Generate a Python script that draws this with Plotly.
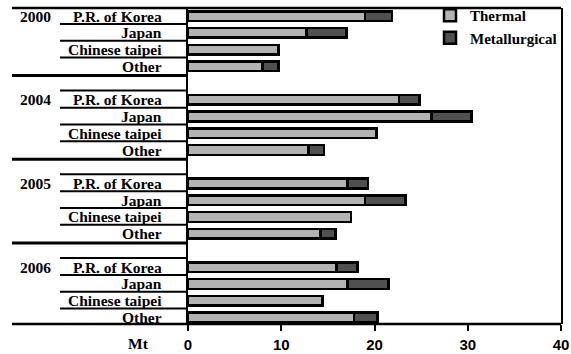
import plotly.graph_objects as go

years = ["2000", "2004", "2005", "2006"]
countries = ["P.R. of Korea", "Japan", "Chinese taipei", "Other"]

thermal_2000 = [19.0, 12.7, 9.7, 8.0]
metall_2000 = [2.9, 4.3, None, 1.7]
thermal_2004 = [22.6, 26.1, 20.2, 12.9]
metall_2004 = [2.2, 4.3, None, 1.7]
thermal_2005 = [17.1, 19.0, 17.5, 14.2]
metall_2005 = [2.2, 4.3, None, 1.6]
thermal_2006 = [15.9, 17.1, 14.4, 17.8]
metall_2006 = [2.3, 4.4, None, 2.5]

thermal = [thermal_2000, thermal_2004, thermal_2005, thermal_2006]
metall = [metall_2000, metall_2004, metall_2005, metall_2006]

x_ticks = [0, 10, 20, 30, 40]

# slot positions: 4 rows per year + one empty slot between groups
slots, th_vals, me_vals = [], [], []
for gi, yr in enumerate(years):
    for ci, c in enumerate(countries):
        slots.append(5 * gi + ci)
        th_vals.append(thermal[gi][ci])
        me_vals.append(metall[gi][ci])

W, H = 571, 354
L, R, T, B = 188, 10, 8, 30
pw = W - L - R
ph = H - T - B


def px_x(px):
    return (px - L) / pw


def px_y(py):
    return (H - B - py) / ph


SERIF = "Liberation Serif, Times New Roman, DejaVu Serif, serif"
SANS = "Liberation Sans, Arial, sans-serif"

fig = go.Figure()
fig.add_trace(go.Bar(
    y=slots, x=th_vals, orientation="h", name="Thermal",
    marker=dict(color="#b3b3b3", line=dict(color="black", width=2.5)),
    width=0.57,
))
fig.add_trace(go.Bar(
    y=slots, x=me_vals, orientation="h", name="Metallurgical",
    marker=dict(color="#505050", line=dict(color="black", width=2.5)),
    width=0.57,
))

shapes = []
x_left_thick = px_x(12)
x_left_thin = px_x(60)
# top border and bottom line
shapes.append(dict(type="line", xref="paper", yref="paper", x0=x_left_thick, x1=1,
                   y0=1, y1=1, line=dict(color="black", width=2.5)))
shapes.append(dict(type="line", xref="paper", yref="paper", x0=x_left_thick, x1=1,
                   y0=0, y1=0, line=dict(color="black", width=2.5)))
for gi in range(len(years)):
    b = 5 * gi
    if gi < len(years) - 1:
        shapes.append(dict(type="line", xref="paper", yref="y", x0=x_left_thick, x1=0,
                           y0=b + 3.55, y1=b + 3.55, line=dict(color="black", width=3)))
    offs = [0.47, 1.47, 2.47]
    if gi > 0:
        offs = [-0.55] + offs
    for o in offs:
        shapes.append(dict(type="line", xref="paper", yref="y", x0=x_left_thin, x1=0,
                           y0=b + o, y1=b + o, line=dict(color="black", width=2)))

annotations = []
for gi, yr in enumerate(years):
    annotations.append(dict(text=yr, xref="paper", yref="y", x=px_x(18), y=5 * gi,
                            xanchor="left", yanchor="middle", showarrow=False,
                            font=dict(family=SERIF, size=15.5, color="black", weight="bold")))
    for ci, c in enumerate(countries):
        annotations.append(dict(text=c, xref="paper", yref="y", x=px_x(164), y=5 * gi + ci,
                                xanchor="right", yanchor="middle", showarrow=False,
                                font=dict(family=SERIF, size=15.5, color="black", weight="bold")))
annotations.append(dict(text="Mt", xref="paper", yref="paper", x=px_x(138), y=px_y(344),
                        xanchor="center", yanchor="middle", showarrow=False,
                        font=dict(family=SERIF, size=15.5, color="black", weight="bold")))

fig.update_layout(
    width=W, height=H,
    margin=dict(l=L, r=R, t=T, b=B, pad=0, autoexpand=False),
    barmode="stack",
    plot_bgcolor="white", paper_bgcolor="white",
    shapes=shapes, annotations=annotations,
    showlegend=True,
    legend=dict(x=px_x(430), y=px_y(-1), xanchor="left", yanchor="top",
                bgcolor="rgba(0,0,0,0)", borderwidth=0,
                font=dict(family=SERIF, size=15, color="black", weight="bold"),
                tracegroupgap=0, traceorder="normal"),
    xaxis=dict(range=[0, 40], tickvals=x_ticks, ticktext=[str(v) for v in x_ticks],
               showgrid=False, zeroline=False, showline=False, automargin=False,
               ticks="outside", ticklen=6, tickwidth=2, tickcolor="black",
               ticklabelstandoff=1,
               tickfont=dict(family=SANS, size=15, color="black", weight="bold")),
    yaxis=dict(range=[18.39, -0.48], showgrid=False, zeroline=False, automargin=False,
               showticklabels=False, ticks="", showline=True, linewidth=2,
               linecolor="black", mirror=True),
)

fig.write_html("out.html",
               config={"displayModeBar": False},
               post_script="document.body.style.margin='0px';")
